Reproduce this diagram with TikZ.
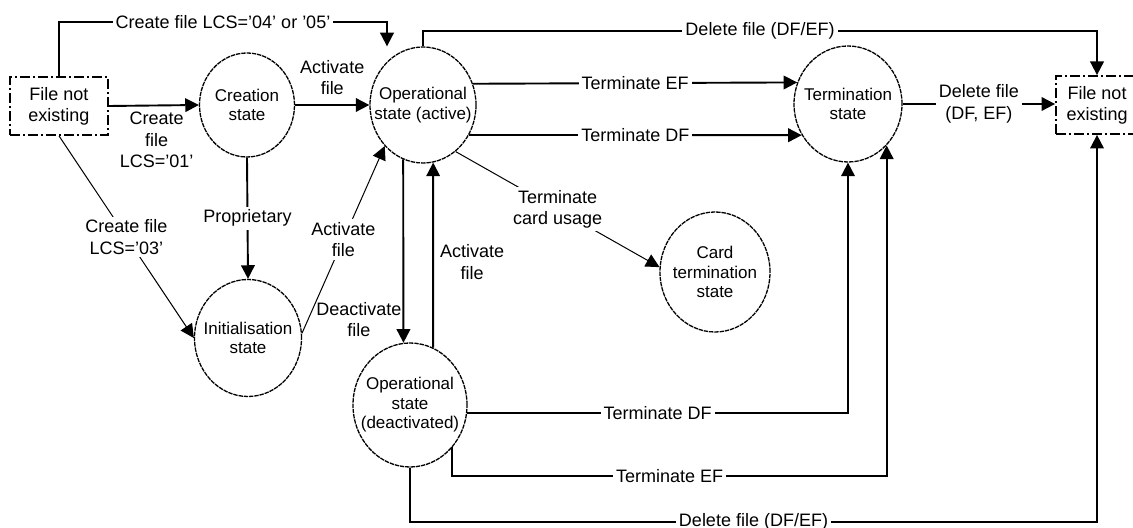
\documentclass[tikz,border=0pt]{standalone}
\usepackage{fontspec}
\setmainfont{Liberation Sans}
\usetikzlibrary{shapes.geometric, arrows.meta, calc}
\tikzset{>={Triangle[length=6.8pt,width=6.8pt]}}

\begin{document}
\begin{tikzpicture}[x=0.5pt, y=-0.5pt,
  state/.style={ellipse, draw, line width=0.65pt, dash pattern=on 2.2pt off 0.45pt,
    inner sep=0pt, minimum width=54pt, minimum height=58pt},
  statetext/.style={font=\fontsize{8.5}{9.75}\selectfont, align=center, inner sep=0pt},
  filebox/.style={draw, line width=0.9pt, dash pattern=on 5pt off 1.5pt on 1pt off 1.5pt,
    minimum width=49pt, minimum height=29pt, align=center, inner sep=0pt,
    font=\fontsize{9}{10.5}\selectfont},
  lbl/.style={font=\fontsize{9}{10.75}\selectfont, align=center, fill=white, inner sep=1.5pt},
  flow/.style={->, line width=0.95pt},
  slim/.style={->, line width=0.5pt}]
  \clip (0,0) rectangle (1133,528);

  % STATES
  \node[filebox] (lbox) at (59,106) {File not\\existing};
  \node[state, minimum width=47.5pt, minimum height=52pt,
    label={[statetext]center:Creation\\state}] (create) at (247,105) {};
  \node[state, minimum width=53pt,
    label={[statetext]center:Operational\\state (active)}] (opA) at (423,105) {};
  \node[state, minimum width=53.5pt, minimum height=58.5pt,
    label={[statetext]center:Initialisation\\state}] (init) at (248,338) {};
  \node[state, minimum width=57pt, minimum height=62pt,
    label={[statetext]center:Operational\\state\\(deactivated)}] (opD) at (410,405) {};
  \node[state, minimum width=55pt, minimum height=60pt,
    label={[statetext]center:Card\\termination\\state}] (card) at (715,272) {};
  \node[state, label={[statetext]center:Termination\\state}] (term) at (848,104) {};
  \node[filebox, minimum width=41pt] (rbox) at (1097,105) {File not\\existing};

  % RAILS
  \coordinate (railA) at (0,22);
  \coordinate (railB) at (0,31);
  \coordinate (railC) at (0,476);
  \coordinate (railD) at (0,522);
  \coordinate (opAin) at ($(opA.north)+(-36,0)$);

  % TRANSITIONS
  \draw[flow] (lbox.north) -- (lbox.north |- railA)
    -- node[lbl]{Create file LCS='04' or '05'} (opAin |- railA) -- (opAin);
  \draw[flow] (opA.north) -- (opA.north |- railB)
    -- node[lbl]{Delete file (DF/EF)} (rbox.north |- railB) -- (rbox.north);
  \draw[flow] (lbox.east) -- node[lbl, fill=none, below=1.5pt, pos=0.53]{Create\\file\\LCS='01'} (create.west);
  \draw[flow] (create.east) -- node[lbl, fill=none, above=3pt]{Activate\\file} (opA.west);
  \draw[flow] (create.south) -- node[lbl]{Proprietary} (init.north);
  \draw[slim] (lbox.south) -- node[lbl]{Create file\\LCS='03'} (init.west);
  \draw[slim] (init.5) -- node[lbl]{Activate\\file} (opA.227);
  \draw[flow] (opA.23) -- node[lbl]{Terminate EF} (term.157);
  \draw[flow] (opA.-33) -- node[lbl]{Terminate DF} (term.214);
  \draw[flow] (term.east) -- node[lbl]{Delete file\\(DF, EF)} (term.east -| rbox.west);
  \draw[slim] (opA.305) -- node[lbl]{Terminate\\card usage} (card.175);
  \draw[flow] (opA.250) -- node[lbl, fill=none, left, inner sep=0.5pt, pos=0.873]{Deactivate\\file} (opD.96);
  \draw[flow] (opD.68) -- node[lbl, fill=none, right, inner sep=3pt, pos=0.462]{Activate\\file} (opA.280);
  \draw[flow] (opD.352) -| node[lbl, pos=0.25]{Terminate DF} (term.south);
  \draw[flow] (opD.315) -- (opD.315 |- railC)
    -- node[lbl]{Terminate EF} (term.313 |- railC) -- (term.313);
  \draw[flow] (opD.south) -- (opD.south |- railD)
    -- node[lbl]{Delete file (DF/EF)} (rbox.south |- railD) -- (rbox.south);
\end{tikzpicture}
\end{document}
